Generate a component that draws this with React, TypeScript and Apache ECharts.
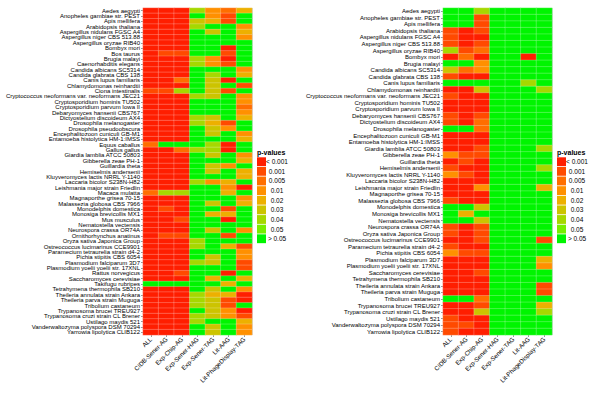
import React, { useEffect, useRef } from "react";
import * as echarts from "echarts";

const methods = ["ALL", "CIDB-Sener-AG", "Exp-Chip-AG", "Exp-Sener-HAG", "Exp-Sener-TAG", "Lit-AAG", "Lit-PhageDisplay-TAG"];
const pLabels = ["< 0.001", "0.001", "0.005", "0.01", "0.02", "0.03", "0.04", "0.05", "> 0.05"];
const pColors = ["#FF1E00", "#FF4A00", "#FF6E00", "#FF9000", "#EDB000", "#CCC400", "#A6D800", "#78EE00", "#00F500"];

const leftSpecies = [
  "Aedes aegypti", "Anopheles gambiae str. PEST", "Apis mellifera", "Arabidopsis thaliana",
  "Aspergillus nidulans FGSC A4", "Aspergillus niger CBS 513.88", "Aspergillus oryzae RIB40", "Bombyx mori",
  "Bos taurus", "Brugia malayi", "Caenorhabditis elegans", "Candida albicans SC5314", "Candida glabrata CBS 138",
  "Canis lupus familiaris", "Chlamydomonas reinhardtii", "Ciona intestinalis",
  "Cryptococcus neoformans var. neoformans JEC21", "Cryptosporidium hominis TU502", "Cryptosporidium parvum Iowa II",
  "Debaryomyces hansenii CBS767", "Dictyostelium discoideum AX4", "Drosophila melanogaster", "Drosophila pseudoobscura",
  "Encephalitozoon cuniculi GB-M1", "Entamoeba histolytica HM-1:IMSS", "Equus caballus", "Gallus gallus",
  "Giardia lamblia ATCC 50803", "Gibberella zeae PH-1", "Guillardia theta", "Hemiselmis andersenii",
  "Kluyveromyces lactis NRRL Y-1140", "Laccaria bicolor S238N-H82", "Leishmania major strain Friedlin",
  "Macaca mulatta", "Magnaporthe grisea 70-15", "Malassezia globosa CBS 7966", "Monodelphis domestica",
  "Monosiga brevicollis MX1", "Mus musculus", "Nematostella vectensis", "Neurospora crassa OR74A",
  "Ornithorhynchus anatinus", "Oryza sativa Japonica Group", "Ostreococcus lucimarinus CCE9901",
  "Paramecium tetraurelia strain d4-2", "Pichia stipitis CBS 6054", "Plasmodium falciparum 3D7",
  "Plasmodium yoelii yoelii str. 17XNL", "Rattus norvegicus", "Saccharomyces cerevisiae", "Takifugu rubripes",
  "Tetrahymena thermophila SB210", "Theileria annulata strain Ankara", "Theileria parva strain Muguga",
  "Tribolium castaneum", "Trypanosoma brucei TREU927", "Trypanosoma cruzi strain CL Brener", "Ustilago maydis 521",
  "Vanderwaltozyma polyspora DSM 70294", "Yarrowia lipolytica CLIB122",
];

const rightSpecies = [
  "Aedes aegypti", "Anopheles gambiae str. PEST", "Apis mellifera", "Arabidopsis thaliana",
  "Aspergillus nidulans FGSC A4", "Aspergillus niger CBS 513.88", "Aspergillus oryzae RIB40", "Bombyx mori",
  "Brugia malayi", "Candida albicans SC5314", "Candida glabrata CBS 138", "Canis lupus familiaris",
  "Chlamydomonas reinhardtii", "Cryptococcus neoformans var. neoformans JEC21", "Cryptosporidium hominis TU502",
  "Cryptosporidium parvum Iowa II", "Debaryomyces hansenii CBS767", "Dictyostelium discoideum AX4",
  "Drosophila melanogaster", "Encephalitozoon cuniculi GB-M1", "Entamoeba histolytica HM-1:IMSS",
  "Giardia lamblia ATCC 50803", "Gibberella zeae PH-1", "Guillardia theta", "Hemiselmis andersenii",
  "Kluyveromyces lactis NRRL Y-1140", "Laccaria bicolor S238N-H82", "Leishmania major strain Friedlin",
  "Magnaporthe grisea 70-15", "Malassezia globosa CBS 7966", "Monodelphis domestica", "Monosiga brevicollis MX1",
  "Nematostella vectensis", "Neurospora crassa OR74A", "Oryza sativa Japonica Group",
  "Ostreococcus lucimarinus CCE9901", "Paramecium tetraurelia strain d4-2", "Pichia stipitis CBS 6054",
  "Plasmodium falciparum 3D7", "Plasmodium yoelii yoelii str. 17XNL", "Saccharomyces cerevisiae",
  "Tetrahymena thermophila SB210", "Theileria annulata strain Ankara", "Theileria parva strain Muguga",
  "Tribolium castaneum", "Trypanosoma brucei TREU927", "Trypanosoma cruzi strain CL Brener", "Ustilago maydis 521",
  "Vanderwaltozyma polyspora DSM 70294", "Yarrowia lipolytica CLIB122",
];

// p-value class index (0 = "< 0.001" ... 8 = "> 0.05"), one array per method column
const leftALL = [0,0,0,0,0,0,0,0,0,0,0,0,0,0,0,1,0,0,0,0,0,0,0,0,0,2,0,0,0,0,0,0,0,0,2,0,0,0,0,0,0,0,0,0,0,0,0,0,0,0,0,8,0,0,0,0,0,0,0,0,0];
const leftCIDB = [0,0,0,0,0,0,0,0,1,0,0,0,0,0,0,1,0,0,0,0,0,0,0,0,0,8,0,0,0,0,0,0,0,0,6,0,0,1,0,0,0,0,1,0,0,0,0,0,0,0,0,8,0,0,0,0,0,0,0,0,0];
const leftChip = [0,0,0,0,0,0,0,0,1,0,0,0,0,2,0,6,0,0,0,0,0,0,0,0,0,8,2,0,0,0,0,0,0,0,6,0,0,0,0,1,0,0,1,0,0,0,0,0,0,1,0,8,0,0,0,0,0,0,0,0,0];
const leftHAG = [6,8,5,6,8,8,8,8,8,6,6,8,8,8,8,8,6,8,8,8,6,6,8,8,8,8,6,8,8,8,8,8,6,8,8,8,8,8,8,8,8,8,8,6,6,8,8,6,8,8,8,8,8,6,6,6,8,6,6,8,8];
const leftTAG = [3,3,4,8,5,8,8,8,8,3,3,8,6,5,5,5,5,8,8,8,5,4,5,5,8,6,6,5,8,5,5,8,3,8,8,8,5,8,4,8,8,5,8,8,8,8,5,5,8,8,4,8,5,4,5,5,5,5,8,5,5];
const leftAAG = [2,1,1,8,8,8,8,0,1,0,1,8,8,0,8,1,8,8,8,8,8,1,3,8,8,0,0,8,8,3,8,8,4,3,4,8,8,1,4,0,8,8,1,8,4,8,8,8,8,0,8,4,8,4,1,1,3,3,8,8,8];
const leftPhage = [4,8,8,3,4,3,8,8,8,8,8,3,4,8,1,8,3,3,2,3,4,8,8,3,4,8,8,3,4,8,4,4,8,0,8,3,4,8,8,8,8,3,8,8,1,3,3,1,1,8,4,8,3,0,0,8,0,1,4,3,3];

const rightALL = [8,8,8,1,1,1,6,0,8,5,1,8,0,1,0,0,1,1,8,0,0,0,3,0,1,3,0,0,0,1,8,8,8,1,1,0,1,3,0,0,0,0,0,0,8,0,0,1,1,1];
const rightCIDB = [8,8,8,0,0,0,1,2,8,2,0,8,0,0,0,0,0,0,8,0,0,0,1,1,0,1,0,0,0,0,8,4,8,0,0,0,0,1,0,0,0,0,0,0,8,0,0,0,1,0];
const rightChip = [6,1,1,1,0,1,2,0,3,3,0,8,5,0,0,0,1,2,2,0,0,1,1,0,0,0,0,3,0,0,5,8,5,1,1,1,0,1,0,0,1,0,0,0,2,1,5,0,0,0];
const rightHAG = [8,8,8,8,8,8,8,8,8,8,8,8,8,8,8,8,8,8,8,8,8,8,8,8,8,8,8,8,8,8,8,8,8,8,8,8,8,8,8,8,8,8,8,8,8,8,8,8,8,8];
const rightTAG = [8,8,8,8,8,8,8,8,8,8,8,8,8,8,8,8,8,8,8,8,8,8,8,8,8,8,8,8,8,8,8,8,8,8,8,8,8,8,8,8,8,8,8,8,8,8,8,8,8,8];
const rightAAG = [8,8,8,8,8,8,8,0,8,8,8,6,8,8,8,8,8,8,8,8,8,8,8,8,8,8,8,8,8,8,8,8,8,8,8,8,8,8,8,8,8,8,8,8,8,8,8,8,8,8];
const rightPhage = [8,8,8,8,8,8,8,8,8,8,8,8,6,8,8,8,8,8,8,8,8,6,8,8,6,8,8,4,8,8,8,8,8,8,8,1,8,8,4,3,8,8,1,1,8,4,6,8,8,8];

const leftCols = [leftALL, leftCIDB, leftChip, leftHAG, leftTAG, leftAAG, leftPhage];
const rightCols = [rightALL, rightCIDB, rightChip, rightHAG, rightTAG, rightAAG, rightPhage];

const FONT = "Liberation Sans, Arial, Helvetica, sans-serif";

function toCells(cols: number[][]) {
  const out: number[][] = [];
  cols.forEach((col, x) => col.forEach((v, y) => out.push([x, y, v])));
  return out;
}

function legendGraphics(x: number, cx: number) {
  const els: any[] = [
    { type: "text", x: x, y: 149, style: { text: "p-values", font: `bold 7px ${FONT}`, fill: "#000" } },
  ];
  const top = 157.3;
  const h = 9.63;
  pLabels.forEach((lab, i) => {
    els.push({ type: "rect", shape: { x: x, y: top + i * h, width: 9, height: h - 0.8 }, style: { fill: pColors[i] } });
    els.push({
      type: "text",
      x: cx,
      y: top + i * h + h / 2 - 0.4,
      style: { text: lab, font: `6.5px ${FONT}`, fill: "#000", align: "center", verticalAlign: "middle" },
    });
  });
  return els;
}

function makeXAxis(gridIndex: number) {
  return {
    type: "category",
    gridIndex,
    data: methods,
    position: "bottom",
    axisLine: { show: false },
    axisTick: { show: true, alignWithLabel: true, length: 2, lineStyle: { color: "#555", width: 0.6 } },
    axisLabel: { rotate: 45, interval: 0, fontSize: 6.2, color: "#000", fontFamily: FONT, margin: 3 },
    splitLine: { show: false },
  };
}

function makeYAxis(gridIndex: number, data: string[]) {
  return {
    type: "category",
    gridIndex,
    data,
    inverse: true,
    axisLine: { show: false },
    axisTick: { show: true, alignWithLabel: true, length: 2, lineStyle: { color: "#555", width: 0.6 } },
    axisLabel: { interval: 0, fontSize: 6, color: "#000", fontFamily: FONT, margin: 3 },
    splitLine: { show: false },
  };
}

export default function App() {
  const ref = useRef<HTMLDivElement>(null);
  useEffect(() => {
    if (!ref.current) return;
    const chart = echarts.init(ref.current, undefined, { renderer: "svg" });
    const cellStyle = { borderColor: "rgba(255,255,255,0.45)", borderWidth: 0.5 };
    chart.setOption({
      animation: false,
      backgroundColor: "#fff",
      grid: [
        { left: 143, top: 8, width: 109, height: 327 },
        { left: 443, top: 8, width: 109, height: 327 },
      ],
      xAxis: [makeXAxis(0), makeXAxis(1)],
      yAxis: [makeYAxis(0, leftSpecies), makeYAxis(1, rightSpecies)],
      visualMap: {
        type: "piecewise",
        show: false,
        dimension: 2,
        seriesIndex: [0, 1],
        pieces: pLabels.map((lab, i) => ({ value: i, color: pColors[i], label: lab })),
      },
      series: [
        { type: "heatmap", xAxisIndex: 0, yAxisIndex: 0, data: toCells(leftCols), itemStyle: cellStyle },
        { type: "heatmap", xAxisIndex: 1, yAxisIndex: 1, data: toCells(rightCols), itemStyle: cellStyle },
      ],
      graphic: [
        { type: "line", shape: { x1: 252.5, y1: 8, x2: 252.5, y2: 335 }, style: { stroke: "#cfcfcf", lineWidth: 1 } },
        { type: "line", shape: { x1: 552.5, y1: 8, x2: 552.5, y2: 335 }, style: { stroke: "#cfcfcf", lineWidth: 1 } },
        ...legendGraphics(257, 277),
        ...legendGraphics(557, 577),
      ],
    });
    return () => chart.dispose();
  }, []);
  return <div ref={ref} style={{ position: "fixed", left: 0, top: 0, width: 600, height: 400 }} />;
}
